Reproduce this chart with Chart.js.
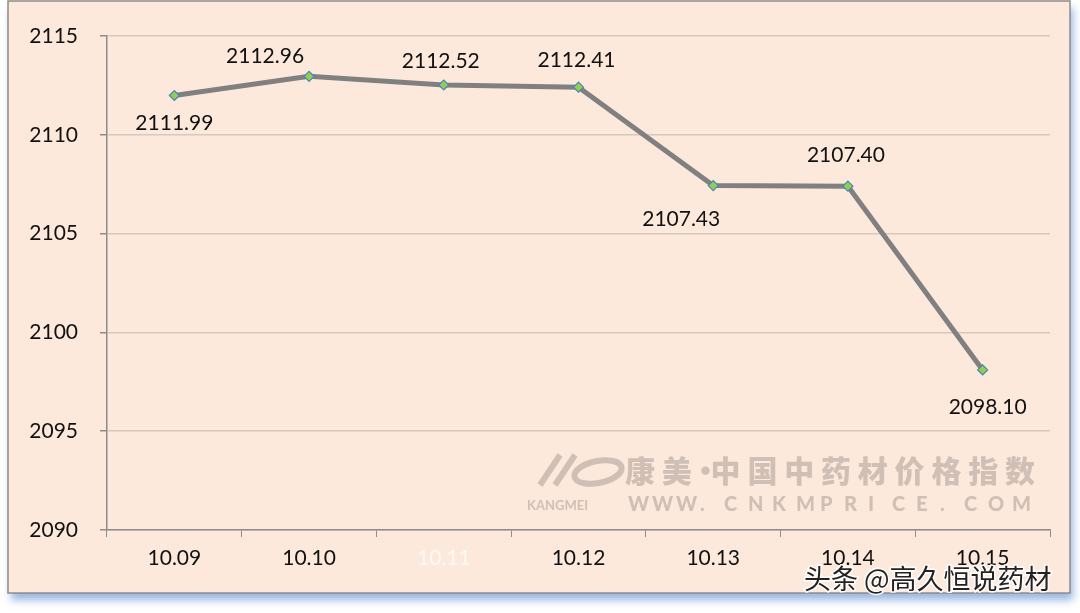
<!DOCTYPE html>
<html>
<head>
<meta charset="utf-8">
<script src="https://cdn.jsdelivr.net/npm/chart.js@4.4.0/dist/chart.umd.min.js"></script>
<style>
  html, body { margin: 0; padding: 0; background: #ffffff; }
  #wrap { width: 1080px; height: 613px; position: relative; }
</style>
</head>
<body>
<div id="wrap"><canvas id="priceChart" width="1080" height="613"></canvas></div>
<script>
// dates on the x axis
const dates = ['10.09', '10.10', '10.11', '10.12', '10.13', '10.14', '10.15'];
// index values
const indexValues = [2111.99, 2112.96, 2112.52, 2112.41, 2107.43, 2107.40, 2098.10];
// y axis ticks
const yTicks = [2090, 2095, 2100, 2105, 2110, 2115];

// where each value label sits relative to its point (px)
const labelOffsets = [[0, 28], [-44, -20], [-3, -24], [-2, -27], [-32, 34], [-2, -31], [5, 37]];

const FONT = 'Lato, "Open Sans", sans-serif';

// panel background + frame with blue shadow
const panelPlugin = {
  id: 'panel',
  beforeDraw(chart) {
    const ctx = chart.ctx;
    ctx.save();
    ctx.shadowColor = 'rgba(70,120,200,0.55)';
    ctx.shadowOffsetX = 3;
    ctx.shadowOffsetY = 7;
    ctx.shadowBlur = 8;
    ctx.fillStyle = '#fde9db';
    ctx.fillRect(8, 1, 1062, 592);
    ctx.restore();
    ctx.save();
    ctx.strokeStyle = '#8c8c8c';
    ctx.lineWidth = 1.5;
    ctx.strokeRect(8, 1, 1062, 592);
    ctx.restore();
  }
};

// faint watermark drawn behind the line
const watermarkPlugin = {
  id: 'watermark',
  beforeDatasetsDraw(chart) {
    const ctx = chart.ctx;
    ctx.save();
    ctx.fillStyle = 'rgba(150,140,135,0.45)';
    ctx.strokeStyle = 'rgba(150,140,135,0.45)';
    // rough logo swooshes
    ctx.lineWidth = 6;
    ctx.beginPath();
    ctx.moveTo(540, 485); ctx.lineTo(560, 455);
    ctx.moveTo(555, 485); ctx.lineTo(575, 455);
    ctx.stroke();
    ctx.beginPath();
    ctx.ellipse(598, 472, 24, 11, -0.2, 0, Math.PI * 2);
    ctx.stroke();
    ctx.font = '900 30px "Noto Sans CJK SC", sans-serif';
    ctx.textBaseline = 'middle';
    ctx.textAlign = 'left';
    const title = '康美·中国中药材价格指数';
    let x = 625;
    for (const ch of title) {
      ctx.fillText(ch, ch === '·' ? x - 8 : x, 471);
      x += ch === '·' ? 12 : 36.8;
    }
    ctx.font = 'bold 13px ' + FONT;
    ctx.fillText('KANGMEI', 527, 506);
    ctx.font = '900 20px ' + FONT;
    const url = 'WWW.CNKMPRICE.COM';
    x = 628;
    for (const ch of url) {
      ctx.fillText(ch, x, 505);
      x += 24;
    }
    ctx.restore();
  }
};

// value labels and footer text
const labelPlugin = {
  id: 'valueLabels',
  afterDatasetsDraw(chart) {
    const ctx = chart.ctx;
    const meta = chart.getDatasetMeta(0);
    ctx.save();
    ctx.font = '21px ' + FONT;
    ctx.fillStyle = '#111111';
    ctx.textAlign = 'center';
    ctx.textBaseline = 'middle';
    meta.data.forEach((pt, i) => {
      const off = labelOffsets[i];
      ctx.fillText(indexValues[i].toFixed(2), pt.x + off[0], pt.y + off[1]);
    });
    ctx.restore();
  },
  afterDraw(chart) {
    const ctx = chart.ctx;
    ctx.save();
    ctx.font = '27px "Noto Sans CJK SC", sans-serif';
    ctx.textAlign = 'left';
    ctx.textBaseline = 'middle';
    ctx.lineWidth = 3;
    ctx.strokeStyle = 'rgba(255,255,255,0.9)';
    ctx.strokeText('头条 @高久恒说药材', 804, 579);
    ctx.fillStyle = '#222222';
    ctx.fillText('头条 @高久恒说药材', 804, 579);
    ctx.restore();
  }
};

const ctx = document.getElementById('priceChart').getContext('2d');
new Chart(ctx, {
  type: 'line',
  data: {
    labels: dates,
    datasets: [{
      data: indexValues,
      borderColor: '#808080',
      borderWidth: 5,
      tension: 0,
      pointStyle: 'rectRot',
      pointRadius: 5,
      pointBackgroundColor: '#8fd14f',
      pointBorderColor: '#4f81bd',
      pointBorderWidth: 1.2,
      pointHoverRadius: 5
    }]
  },
  options: {
    responsive: false,
    animation: false,
    layout: { padding: { left: 0, top: 36, right: 30, bottom: 0 } },
    plugins: {
      legend: { display: false },
      tooltip: { enabled: false }
    },
    scales: {
      x: {
        offset: true,
        grid: {
          offset: true,
          drawOnChartArea: false,
          drawTicks: true,
          tickLength: 7,
          tickColor: '#8c8c8c'
        },
        border: { color: '#8c8c8c', width: 1.5 },
        ticks: {
          color: (c) => c.index === 2 ? 'rgba(255,255,255,0.7)' : '#111111',
          font: { family: FONT, size: 21 },
          padding: 9,
          maxRotation: 0
        },
        afterFit(scale) { scale.height = 83; }
      },
      y: {
        min: 2090,
        max: 2115,
        afterBuildTicks(scale) { scale.ticks = yTicks.map(v => ({ value: v })); },
        grid: {
          color: '#d8c8bb',
          lineWidth: 1.5,
          tickLength: 7,
          tickColor: '#8c8c8c'
        },
        border: { color: '#8c8c8c', width: 1.5 },
        ticks: {
          color: '#111111',
          font: { family: FONT, size: 21 },
          padding: 22,
          callback: (v) => String(v)
        },
        afterFit(scale) { scale.width = 107; }
      }
    }
  },
  plugins: [panelPlugin, watermarkPlugin, labelPlugin]
});
</script>
</body>
</html>
